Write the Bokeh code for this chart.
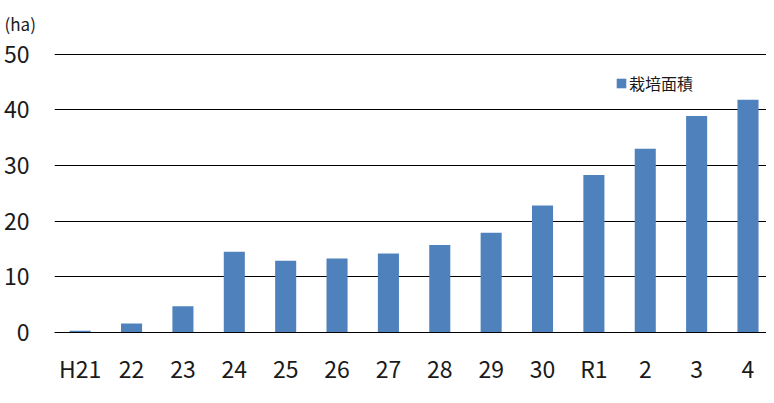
from bokeh.plotting import figure
from bokeh.models import Range1d, FixedTicker, ColumnDataSource, Legend, LegendItem, Title
from bokeh.embed import file_html
from bokeh.resources import INLINE

categories = ["H21", "22", "23", "24", "25", "26", "27", "28", "29", "30", "R1", "2", "3", "4"]
area_ha = [0.3, 1.6, 4.7, 14.5, 12.9, 13.3, 14.2, 15.7, 17.9, 22.8, 28.3, 33.0, 38.9, 41.8]
y_ticks = [0, 10, 20, 30, 40, 50]
series_name = "栽培面積"
unit_label = "(ha)"

FONT = "Noto Sans CJK JP"
BAR = "#4F81BD"

xs = list(range(len(categories)))
src = ColumnDataSource(dict(x=xs, v=area_ha))

p = figure(width=766, height=387, output_backend="svg", toolbar_location=None,
           x_range=Range1d(-0.5, 13.36), y_range=Range1d(0, 51),
           min_border_left=52, min_border_right=0, min_border_top=48, min_border_bottom=54,
           title=Title(text=unit_label, align="left", offset=-50, standoff=21,
                       vertical_align="top", text_font=FONT, text_font_size="17px",
                       text_font_style="normal", text_color="#1a1a1a"))
p.outline_line_color = None
p.background_fill_color = "white"
p.border_fill_color = "white"

r = p.vbar(x="x", top="v", width=0.41, source=src, fill_color=BAR, line_color=None)

p.xgrid.visible = False
p.ygrid.ticker = FixedTicker(ticks=y_ticks)
p.ygrid.grid_line_color = "#000000"
p.ygrid.grid_line_width = 1.2
p.ygrid.level = "underlay"

p.yaxis.ticker = FixedTicker(ticks=y_ticks)
p.yaxis.axis_line_color = None
p.yaxis.major_tick_line_color = None
p.yaxis.minor_tick_line_color = None
p.yaxis.major_tick_out = 0
p.yaxis.major_label_standoff = 25
p.yaxis.major_label_text_font = FONT
p.yaxis.major_label_text_font_size = "23px"
p.yaxis.major_label_text_color = "#1a1a1a"

p.xaxis.ticker = FixedTicker(ticks=xs)
p.xaxis.major_label_overrides = {i: c for i, c in enumerate(categories)}
p.xaxis.axis_line_color = "#000000"
p.xaxis.axis_line_width = 1.2
p.xaxis.major_tick_line_color = None
p.xaxis.minor_tick_line_color = None
p.xaxis.major_tick_out = 0
p.xaxis.major_label_standoff = 18
p.xaxis.major_label_text_font = FONT
p.xaxis.major_label_text_font_size = "23px"
p.xaxis.major_label_text_color = "#1a1a1a"

legend = Legend(items=[LegendItem(label=series_name, renderers=[r])],
                location=(561, 237), orientation="vertical",
                glyph_width=12, glyph_height=12, label_standoff=2,
                label_text_font=FONT, label_text_font_size="16px",
                label_text_color="#1a1a1a", label_height=20,
                padding=0, margin=0, spacing=0,
                border_line_alpha=0, background_fill_alpha=0)
p.add_layout(legend)

open("out.html", "w").write(file_html(p, INLINE))
